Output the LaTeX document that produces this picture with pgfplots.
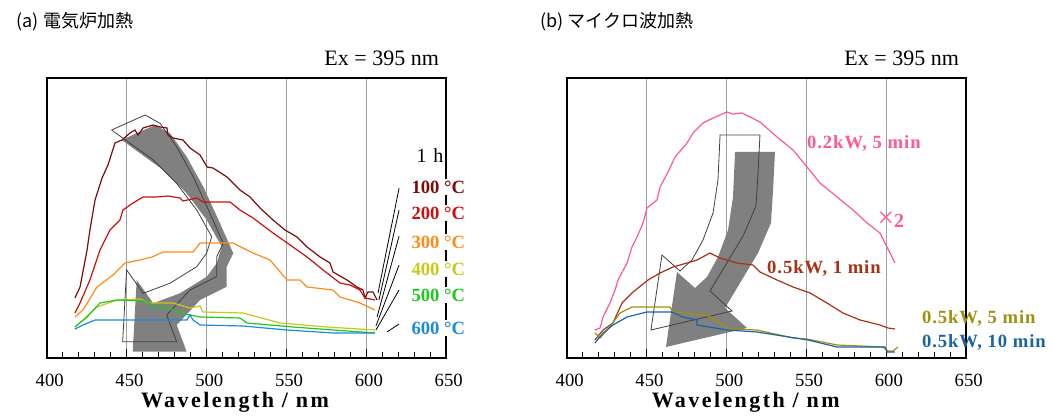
\documentclass[border=0pt]{standalone}
\usepackage{fontspec}
\setmainfont{Liberation Serif}
\newfontfamily\cjk{Noto Sans CJK JP}
\newfontfamily\spf[LetterSpace=5]{Liberation Serif}
\newfontfamily\labf[LetterSpace=11]{Liberation Serif}
\usepackage{pgfplots}
\pgfplotsset{compat=1.18}
\definecolor{c100}{HTML}{7A0C0C}
\definecolor{c200}{HTML}{CC1010}
\definecolor{c300}{HTML}{FF8C1A}
\definecolor{c400}{HTML}{C8C81A}
\definecolor{c500}{HTML}{1EC81E}
\definecolor{c600}{HTML}{1A8CD8}
\definecolor{cpink}{HTML}{FF5A96}
\definecolor{cbrown}{HTML}{A83214}
\definecolor{colive}{HTML}{A09010}
\definecolor{cblue}{HTML}{1A64A0}
\definecolor{gridc}{HTML}{A0A0A0}
\definecolor{arrowc}{HTML}{808080}
\definecolor{outc}{HTML}{404040}
\pgfplotsset{myax/.style={
  scale only axis, width=299.25pt, height=210pt,
  xmin=400, xmax=650, ymin=0, ymax=280,
  xtick={400,450,500,550,600,650}, minor x tick num=4,
  ytick=\empty, xtick pos=left,
  major tick length=6.75pt, minor tick length=4.5pt, tick align=inside,
  tick style={black, line width=0.75pt},
  xmajorgrids, major grid style={gridc, line width=0.9pt},
  axis line style={line width=1pt},
  every axis plot/.append style={line width=0.9pt, no markers},
  clip=false,
  xticklabel style={font=\fontsize{14}{16}\selectfont, anchor=center, yshift=-17pt, xshift=2pt},
  /pgf/number format/assume math mode=true,
}}
\def\leftarrowpath{(axis cs:446.8,218) -- (axis cs:467.7,233) -- (axis cs:477.1,224.7) -- (axis cs:487.5,201.3) -- (axis cs:497.9,171.3) -- (axis cs:508.4,134.7) -- (axis cs:516.7,104.7) -- (axis cs:512.6,91.3) -- (axis cs:512.6,71.3) -- (axis cs:495.9,58) -- (axis cs:481.3,33) -- (axis cs:487.5,6.3) -- (axis cs:453.7,6.3) -- (axis cs:456.2,78) -- (axis cs:466.6,54.7) -- (axis cs:483.3,64.7) -- (axis cs:500.1,81.3) -- (axis cs:506.3,94.7) -- (axis cs:509.5,111.3) -- (axis cs:500.1,138) -- (axis cs:487.5,164.7) -- (axis cs:472.9,188) -- (axis cs:458.3,204.7) -- cycle}
\def\rightarrowpath{(axis cs:505.3,206) -- (axis cs:530.3,206) -- (axis cs:529.1,168) -- (axis cs:527.8,135) -- (axis cs:519.7,105) -- (axis cs:508.4,75) -- (axis cs:499.0,50) -- (axis cs:512.8,30) -- (axis cs:462.0,11) -- (axis cs:468.9,86) -- (axis cs:480.2,70) -- (axis cs:487.7,81) -- (axis cs:494.6,101) -- (axis cs:500.9,128) -- (axis cs:504.0,161) -- cycle}
\begin{document}
\begin{tikzpicture}
\path[use as bounding box] (0,0) rectangle (789pt,312.75pt);
% ---------------- (a) ----------------
\begin{axis}[myax, at={(35.25pt,44.25pt)}, anchor=south west]
\fill[arrowc] \leftarrowpath;
\draw[outc, line width=0.6pt, shift={(axis direction cs:-6.3,10)}] \leftarrowpath;
\addplot[c100] coordinates {(417.5,60)(420.7,71)(425.1,108)(426.9,128)(430.1,158)(434.5,180)(438.2,193)(442.6,215)(447.0,218)(452.0,225)(455.1,228)(457.0,223)(460.2,230)(466.4,233)(470.8,231)(475.2,230)(475.8,223)(478.9,220)(485.2,218)(489.6,210)(495.9,203)(500.3,191)(504.0,190)(512.8,181)(520.9,168)(527.2,161)(533.5,150)(541.6,138)(549.1,128)(556.6,121)(562.9,111)(571.1,101)(577.3,95)(579.2,86)(588.0,78)(594.2,71)(598.0,68)(599.2,60)(601.1,66)(604.3,66)(606.8,58)};
\addplot[c200] coordinates {(417.5,45)(420.7,55)(426.9,78)(433.2,108)(439.5,128)(445.7,138)(447.6,148)(453.9,155)(460.2,161)(468.9,161)(475.8,162)(483.3,160)(485.2,157)(494.0,160)(497.7,156)(514.7,156)(520.9,148)(529.1,140)(541.6,125)(554.1,111)(562.9,101)(575.4,85)(583.6,75)(589.8,73)(596.1,68)(599.2,60)(605.5,58)};
\addplot[c300] coordinates {(417.5,41)(422.6,48)(431.3,71)(441.4,83)(448.9,95)(458.3,98)(465.8,101)(472.7,106)(491.5,106)(495.9,115)(516.5,115)(529.1,105)(539.7,98)(550.4,78)(558.5,78)(562.9,71)(579.2,68)(583.6,61)(596.1,55)(605.5,48)};
\addplot[c400] coordinates {(417.5,31)(422.6,38)(431.3,51)(443.9,58)(458.3,59)(464.5,55)(478.9,55)(489.6,50)(495.9,52)(497.7,46)(522.8,45)(546.0,35)(575.4,31)(605.5,28)};
\addplot[c500] coordinates {(417.5,31)(425.1,41)(433.2,55)(443.9,58)(462.7,57)(467.7,50)(475.2,51)(483.3,45)(495.9,41)(520.9,40)(525.3,35)(554.1,31)(579.2,28)(605.5,25)};
\addplot[c600] coordinates {(417.5,29)(422.6,33)(430.1,38)(487.7,38)(489.6,43)(491.5,38)(495.9,33)(522.8,32)(550.4,28)(579.2,25)(605.5,25)};
\draw[black, line width=0.6pt] (axis cs:620.6,170) -- (axis cs:607.4,65);
\draw[black, line width=0.6pt] (axis cs:620.6,148) -- (axis cs:608.0,58);
\draw[black, line width=0.6pt] (axis cs:620.6,122) -- (axis cs:606.8,41);
\draw[black, line width=0.6pt] (axis cs:620.6,93) -- (axis cs:606.1,32);
\draw[black, line width=0.6pt] (axis cs:620.6,68) -- (axis cs:606.1,28);
\draw[black, line width=0.6pt] (axis cs:620.6,34) -- (axis cs:613.0,26);
\node[font=\fontsize{15}{17}\selectfont, fill=white, inner sep=1pt] at (axis cs:640,202) {1\,\,h};
\node[anchor=west, font=\bfseries\fontsize{14}{16}\selectfont, text=c100, fill=white, inner sep=1pt] at (axis cs:627.4,171) {100 °C};
\node[anchor=west, font=\bfseries\fontsize{14}{16}\selectfont, text=c200, fill=white, inner sep=1pt] at (axis cs:627.4,145) {200 °C};
\node[anchor=west, font=\bfseries\fontsize{14}{16}\selectfont, text=c300, fill=white, inner sep=1pt] at (axis cs:627.4,116) {300 °C};
\node[anchor=west, font=\bfseries\fontsize{14}{16}\selectfont, text=c400, fill=white, inner sep=1pt] at (axis cs:627.4,89) {400 °C};
\node[anchor=west, font=\bfseries\fontsize{14}{16}\selectfont, text=c500, fill=white, inner sep=1pt] at (axis cs:627.4,63) {500 °C};
\node[anchor=west, font=\bfseries\fontsize{14}{16}\selectfont, text=c600, fill=white, inner sep=1pt] at (axis cs:627.4,30) {600 °C};
\node[anchor=east, font=\fontsize{16.5}{18}\selectfont] at (axis cs:648.5,300) {Ex = 395 nm};
\node[anchor=west, font=\cjk\fontsize{13.5}{16}\selectfont] at (axis cs:378.1,336) {(a) 電気炉加熱};
\node[font=\labf\bfseries\fontsize{16.5}{18}\selectfont] at (axis cs:517.8,-44) {Wavelength / nm};
\end{axis}
% ---------------- (b) ----------------
\begin{axis}[myax, at={(425.25pt,44.25pt)}, anchor=south west]
\fill[arrowc] \rightarrowpath;
\draw[outc, line width=0.6pt, shift={(axis direction cs:-9.4,17)}] \rightarrowpath;
\addplot[cpink] coordinates {(417.5,28)(420.7,30)(422.6,41)(426.9,55)(430.1,68)(432.0,78)(437.6,95)(440.7,111)(443.9,121)(447.6,135)(450.1,150)(456.4,158)(458.3,171)(463.3,186)(467.7,201)(475.2,215)(479.0,225)(485.2,235)(491.5,240)(500.3,246)(504.0,244)(509.6,245)(514.7,241)(520.9,236)(531.6,221)(541.6,208)(550.4,191)(558.5,175)(569.2,161)(579.2,148)(588.0,135)(596.1,125)(605.5,95)};
\addplot[cbrown] coordinates {(417.5,18)(422.6,28)(428.8,35)(434.5,55)(441.4,66)(450.8,78)(458.3,85)(466.4,91)(475.2,95)(481.5,98)(489.6,105)(495.9,100)(506.5,95)(516.5,93)(520.9,86)(531.6,78)(541.6,71)(552.3,65)(562.9,55)(572.9,45)(583.6,38)(596.1,33)(601.1,30)(605.5,29)};
\addplot[colive] coordinates {(417.5,25)(420.7,20)(426.9,31)(433.2,45)(440.7,51)(464.5,51)(466.4,46)(487.7,43)(495.9,35)(502.1,29)(519.0,28)(541.6,20)(550.4,19)(569.2,13)(598.0,11)(601.1,7)(604.3,7)(607.4,11)};
\addplot[cblue] coordinates {(417.5,15)(422.6,25)(428.8,33)(437.6,41)(450.1,46)(465.8,46)(472.7,41)(481.5,38)(481.5,33)(500.3,28)(519.0,26)(551.0,18)(569.2,11)(599.2,11)(600.5,6)(605.5,6)};
\node[anchor=west, font=\spf\bfseries\fontsize{14}{16}\selectfont, text=cpink] at (axis cs:547.5,215) {0.2kW, 5 min};
\node[anchor=west, font=\bfseries\fontsize{15}{17}\selectfont, text=cpink, inner sep=0pt] at (axis cs:594.5,138) {{\mdseries\fontsize{22}{22}\selectfont ×}2};
\node[anchor=west, font=\spf\bfseries\fontsize{14}{16}\selectfont, text=cbrown] at (axis cs:522.5,90) {0.5kW, 1 min};
\node[anchor=west, font=\spf\bfseries\fontsize{14}{16}\selectfont, text=colive] at (axis cs:619.5,40) {0.5kW, 5 min};
\node[anchor=west, font=\spf\bfseries\fontsize{14}{16}\selectfont, text=cblue] at (axis cs:619.5,16) {0.5kW, 10 min};
\node[anchor=east, font=\fontsize{16.5}{18}\selectfont] at (axis cs:648.5,300) {Ex = 395 nm};
\node[anchor=west, font=\cjk\fontsize{13.5}{16}\selectfont] at (axis cs:380.5,336) {(b) マイクロ波加熱};
\node[font=\labf\bfseries\fontsize{16.5}{18}\selectfont] at (axis cs:512,-44) {Wavelength / nm};
\end{axis}
\end{tikzpicture}
\end{document}
